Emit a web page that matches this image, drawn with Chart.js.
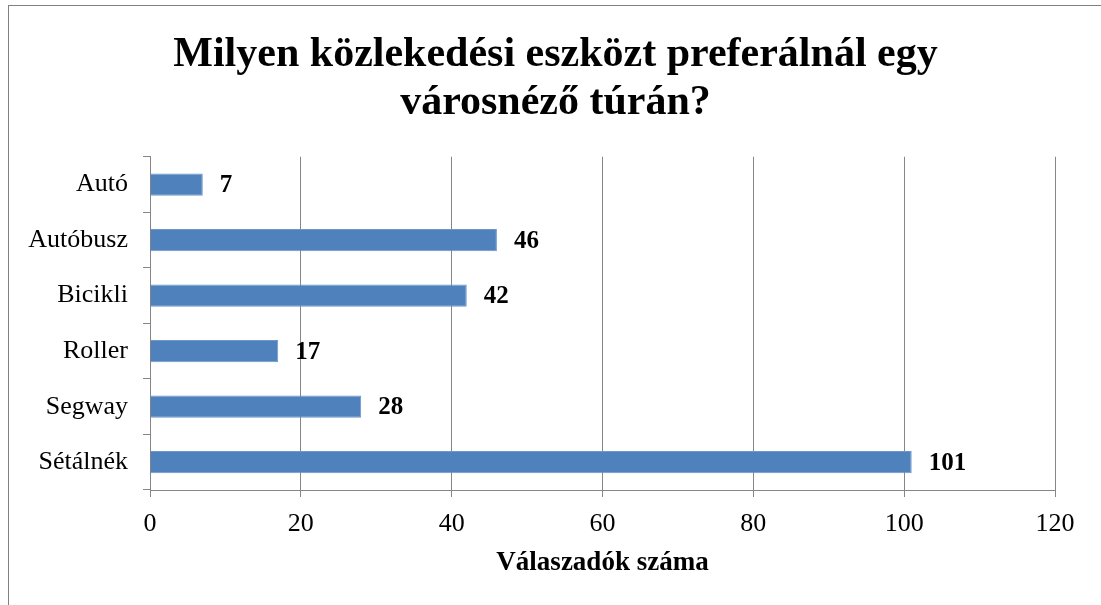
<!DOCTYPE html>
<html>
<head>
<meta charset="utf-8">
<script src="https://cdn.jsdelivr.net/npm/chart.js@4"></script>
<style>
  html, body { margin: 0; padding: 0; background: #fff; overflow: hidden; }
  #wrap { position: relative; width: 1101px; height: 605px; }
  #frame { position: absolute; left: 8px; top: 5px; width: 1200px; height: 700px;
           border-left: 1px solid #808080; border-top: 1px solid #808080; }
  canvas { position: absolute; left: 0; top: 0; }
</style>
</head>
<body>
<div id="wrap">
  <div id="frame"></div>
  <canvas id="chart" width="1101" height="605"></canvas>
</div>
<script>
// Data
const categories = ['Autó', 'Autóbusz', 'Bicikli', 'Roller', 'Segway', 'Sétálnék'];
const answers = [7, 46, 42, 17, 28, 101];
const xTicks = [0, 20, 40, 60, 80, 100, 120];

const FONT = '"Liberation Serif", "Times New Roman", serif';
const GRID = '#868686';

// value labels to the right of each bar
const valueLabels = {
    id: 'valueLabels',
    afterDatasetsDraw(chart) {
        const ctx = chart.ctx;
        const meta = chart.getDatasetMeta(0);
        ctx.save();
        ctx.font = 'bold 25px ' + FONT;
        ctx.fillStyle = '#000';
        ctx.textAlign = 'left';
        ctx.textBaseline = 'middle';
        meta.data.forEach((bar, i) => {
            ctx.fillText(String(answers[i]), bar.x + 17, bar.y + 1);
        });
        ctx.restore();
    }
};

// the title is centred on the whole frame, not on the plot
const titleShift = {
    id: 'titleShift',
    afterLayout(chart) {
        chart.titleBlock.left += 28;
        chart.titleBlock.right += 28;
    }
};

new Chart(document.getElementById('chart'), {
    type: 'bar',
    data: {
        labels: categories,
        datasets: [{
            data: answers,
            backgroundColor: '#4F81BD',
            borderColor: '#6E97C9',
            borderWidth: 1,
            barPercentage: 0.4,
            categoryPercentage: 1
        }]
    },
    options: {
        indexAxis: 'y',
        responsive: false,
        animation: false,
        layout: { padding: { left: 0, right: 46, top: 0, bottom: 15 } },
        plugins: {
            legend: { display: false },
            tooltip: { enabled: false },
            title: {
                display: true,
                text: ['Milyen közlekedési eszközt preferálnál egy', 'városnéző túrán?'],
                color: '#000',
                font: { family: FONT, size: 42, weight: 'bold', lineHeight: 1.14 },
                padding: { top: 31, bottom: 30 }
            }
        },
        scales: {
            x: {
                min: 0,
                max: 120,
                afterBuildTicks(scale) {
                    scale.ticks = xTicks.map(v => ({ value: v }));
                },
                afterFit(scale) { scale.height = 100; },
                grid: { color: GRID, lineWidth: 1, tickLength: 7, tickColor: GRID },
                border: { color: GRID, width: 1 },
                ticks: { color: '#000', padding: 12, font: { family: FONT, size: 26 } },
                title: {
                    display: true,
                    text: 'Válaszadók száma',
                    color: '#000',
                    font: { family: FONT, size: 27, weight: 'bold', lineHeight: 1.2 },
                    padding: { top: 0, bottom: 11 }
                }
            },
            y: {
                afterFit(scale) { scale.width = 150; },
                grid: { drawOnChartArea: false, drawTicks: true, tickLength: 7, color: GRID, offset: true },
                border: { color: GRID, width: 1 },
                ticks: { color: '#000', padding: 15, font: { family: FONT, size: 26 } }
            }
        }
    },
    plugins: [valueLabels, titleShift]
});
</script>
</body>
</html>
